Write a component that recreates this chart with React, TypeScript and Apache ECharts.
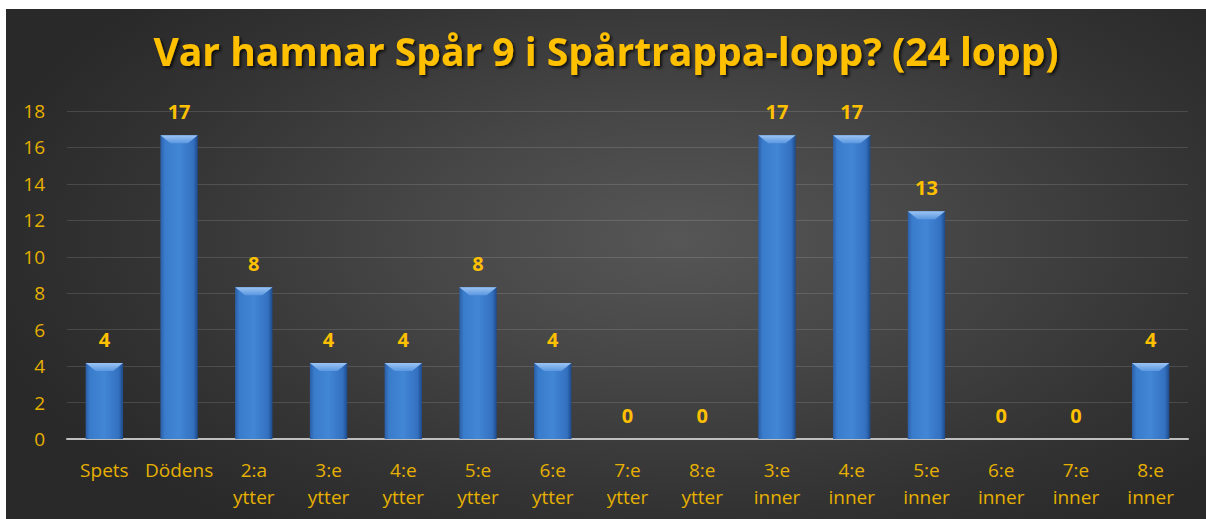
import React, { useEffect, useRef } from "react";
import * as echarts from "echarts";

const categories = [
  "Spets",
  "Dödens",
  "2:a\nytter",
  "3:e\nytter",
  "4:e\nytter",
  "5:e\nytter",
  "6:e\nytter",
  "7:e\nytter",
  "8:e\nytter",
  "3:e\ninner",
  "4:e\ninner",
  "5:e\ninner",
  "6:e\ninner",
  "7:e\ninner",
  "8:e\ninner",
];

// percent of 24 races
const values = [4.17, 16.67, 8.33, 4.17, 4.17, 8.33, 4.17, 0, 0, 16.67, 16.67, 12.5, 0, 0, 4.17];

const yTicks = [0, 2, 4, 6, 8, 10, 12, 14, 16, 18];

const TITLE = "Var hamnar Spår 9 i Spårtrappa-lopp? (24 lopp)";

export default function App() {
  const ref = useRef<HTMLDivElement>(null);

  useEffect(() => {
    if (!ref.current) return;
    const chart = echarts.init(ref.current, null, { renderer: "svg" });
    const gold = "#FFC000";
    const font = "Open Sans";

    chart.setOption({
      animation: false,
      backgroundColor: "transparent",
      title: {
        text: TITLE,
        left: "center",
        top: 17,
        textStyle: {
          fontFamily: font,
          fontWeight: "bold",
          fontSize: 39,
          color: gold,
          textShadowColor: "rgba(0,0,0,0.75)",
          textShadowBlur: 3,
          textShadowOffsetX: 2,
          textShadowOffsetY: 2,
        },
      },
      grid: { left: 61, right: 18, top: 102, bottom: 80, containLabel: false },
      xAxis: {
        type: "category",
        data: categories,
        axisLine: { show: true, lineStyle: { color: "#bfbfbf", width: 2 } },
        axisTick: { show: false },
        axisLabel: {
          interval: 0,
          color: "#E6B000",
          fontFamily: font,
          fontSize: 19,
          lineHeight: 27,
          margin: 17,
        },
      },
      yAxis: {
        type: "value",
        min: yTicks[0],
        max: yTicks[yTicks.length - 1],
        interval: 2,
        axisLine: { show: false },
        axisTick: { show: false },
        splitLine: { lineStyle: { color: "rgba(255,255,255,0.13)", width: 1 } },
        axisLabel: {
          color: "#E6B000",
          fontFamily: font,
          fontSize: 19,
          margin: 22,
        },
      },
      series: [
        {
          type: "bar",
          data: values,
          barWidth: "50%",
          itemStyle: {
            color: new echarts.graphic.LinearGradient(1, 0, 0, 0, [
              { offset: 0, color: "#1d4a8a" },
              { offset: 0.12, color: "#3470c0" },
              { offset: 0.5, color: "#4286d6" },
              { offset: 0.88, color: "#3a7ccc" },
              { offset: 1, color: "#2a5ea6" },
            ]),
          },
          label: {
            show: true,
            position: "top",
            distance: 14,
            color: gold,
            fontFamily: font,
            fontWeight: "bold",
            fontSize: 20,
            formatter: (p: any) => String(Math.round(p.value)),
          },
        },
        {
          type: "custom",
          silent: true,
          z: 3,
          data: values.map((v, i) => [i, v]),
          renderItem: (params: any, api: any) => {
            const v = api.value(1);
            if (!v) return null;
            const p = api.coord([api.value(0), v]);
            const band = api.size([1, 0])[0];
            const w = band * 0.5;
            const inset = 10;
            const h = 8;
            const x0 = p[0] - w / 2;
            const x1 = p[0] + w / 2;
            return {
              type: "polygon",
              shape: {
                points: [
                  [x0, p[1]],
                  [x1, p[1]],
                  [x1 - inset, p[1] + h],
                  [x0 + inset, p[1] + h],
                ],
              },
              style: {
                fill: new echarts.graphic.LinearGradient(0, 0, 0, 1, [
                  { offset: 0, color: "#9cc4f4" },
                  { offset: 1, color: "#5b98e0" },
                ]),
              },
            };
          },
        },
      ],
    });

    return () => chart.dispose();
  }, []);

  return (
    <div
      ref={ref}
      style={{
        position: "absolute",
        left: 6,
        top: 9,
        width: 1200,
        height: 510,
        background:
          "radial-gradient(ellipse 60% 70% at 56% 45%, #565656 0%, #474747 35%, #333333 75%, #292929 100%)",
      }}
    />
  );
}
